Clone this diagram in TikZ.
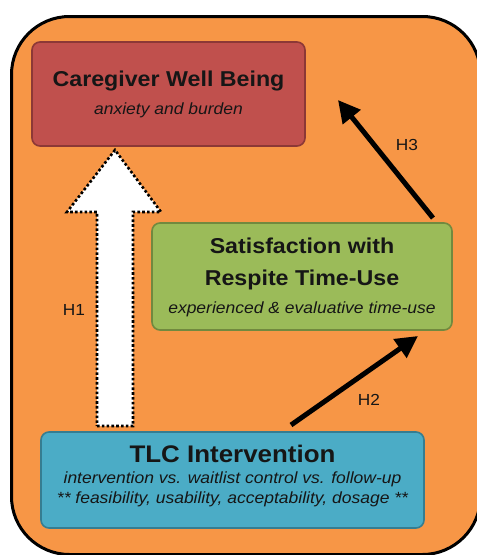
\documentclass[tikz,border=0pt]{standalone}
\usepackage{fontspec}
\setmainfont{Liberation Sans}[FakeStretch=1.08]
\usetikzlibrary{arrows.meta,calc}
\definecolor{bgorange}{HTML}{F79646}
\definecolor{redfill}{HTML}{C0504D}
\definecolor{redline}{HTML}{8C3836}
\definecolor{greenfill}{HTML}{9BBB59}
\definecolor{greenline}{HTML}{71893F}
\definecolor{bluefill}{HTML}{4BACC6}
\definecolor{blueline}{HTML}{357D91}
\definecolor{txt}{HTML}{161616}
\tikzset{
  box/.style={draw, line width=1.6pt, rounded corners=8pt, inner sep=0pt},
  titletext/.style={text=txt, font=\bfseries\fontsize{21.5}{24}\selectfont, inner sep=0pt, anchor=base},
  bigtitle/.style={text=txt, font=\bfseries\fontsize{24}{27}\selectfont, inner sep=0pt, anchor=base},
  subtext/.style={text=txt, font=\itshape\fontsize{16.2}{19}\selectfont, inner sep=0pt, anchor=base},
  hlabel/.style={text=txt, font=\fontsize{16}{18}\selectfont, inner sep=0pt},
  conn/.style={line width=5pt, -{Triangle[length=22pt,width=22pt]}},
  bigarrow/.style={fill=white, draw=black, line width=2.6pt, dash pattern=on 2.6pt off 2.2pt},
}
\begin{document}
\begin{tikzpicture}[x=1pt,y=-1pt]
\useasboundingbox (0,0) rectangle (477,555);
% outer frame
\node[draw=black, line width=3pt, fill=bgorange, rounded corners=58pt,
      minimum width=469pt, minimum height=538pt, anchor=north west, inner sep=0pt] (frame) at (10,15) {};
% boxes
\node[box, fill=redfill, draw=redline, minimum width=273pt, minimum height=104pt] (wb) at (168.5,94) {};
\node[titletext] (wbt) at (168.5,86) {Caregiver Well Being};
\node[subtext] (wbs) at (168.5,114.5) {anxiety and burden};

\node[box, fill=greenfill, draw=greenline, minimum width=300pt, minimum height=107pt] (sat) at (302,276.5) {};
\node[titletext] (sat1) at (302,253) {Satisfaction with};
\node[titletext] (sat2) at (302,285.5) {Respite Time-Use};
\node[subtext] (sats) at (302,313) {experienced \& evaluative time-use};

\node[box, fill=bluefill, draw=blueline, minimum width=383pt, minimum height=96pt] (tlc) at (232.5,480) {};
\node[bigtitle] (tlct) at (232.5,462) {TLC Intervention};
\node[subtext] (tlc1) at (232.5,483.5) {intervention vs. waitlist control vs. follow-up};
\node[subtext] (tlc2) at (232.5,503) {** feasibility, usability, acceptability, dosage **};

% H1 big dotted arrow
\coordinate (h1b) at (115,426);
\coordinate (h1t) at (115,150);
\draw[bigarrow] ($(h1b)+(-18,0)$) -- ($(h1b)+(18,0)$) -- ($(h1t)+(18,62)$) -- ($(h1t)+(46,62)$)
   -- (h1t) -- ($(h1t)+(-48,62)$) -- ($(h1t)+(-18,62)$) -- cycle;
\node[hlabel] (h1) at (74,310) {H1};

% H2, H3 arrows
\coordinate (h2s) at (291,425);
\coordinate (h2e) at (418,336);
\draw[conn] (h2s) -- (h2e);
\node[hlabel] (h2) at (369,400) {H2};

\coordinate (h3s) at (433,218);
\coordinate (h3e) at (338,100);
\draw[conn] (h3s) -- (h3e);
\node[hlabel] (h3) at (407,145) {H3};
\end{tikzpicture}
\end{document}
